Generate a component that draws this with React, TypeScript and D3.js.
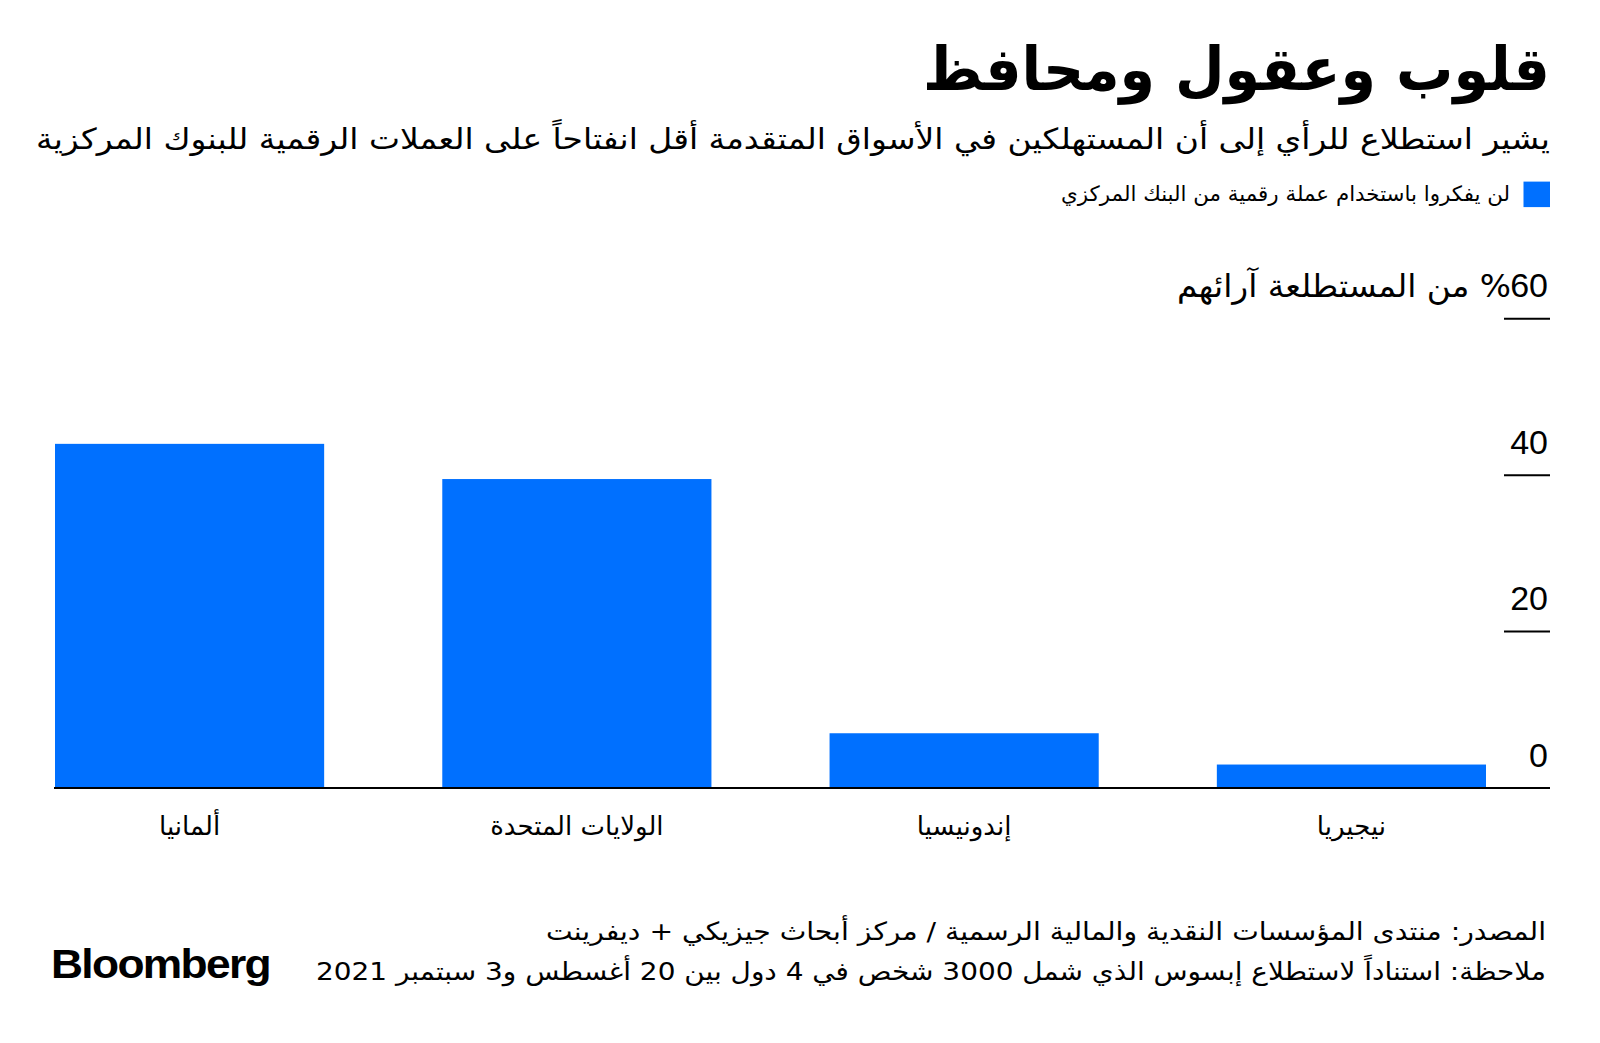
import React from "react";
import * as d3 from "d3";

const title = "قلوب وعقول ومحافظ";
const subtitle = "يشير استطلاع للرأي إلى أن المستهلكين في الأسواق المتقدمة أقل انفتاحاً على العملات الرقمية للبنوك المركزية";
const legendLabel = "لن يفكروا باستخدام عملة رقمية من البنك المركزي";
const yUnitLabel = "% من المستطلعة آرائهم";
const categories = ["ألمانيا", "الولايات المتحدة", "إندونيسيا", "نيجيريا"];
const values = [44, 39.5, 7, 3];
const yTicks = [0, 20, 40, 60];
const sourceText = "المصدر: منتدى المؤسسات النقدية والمالية الرسمية / مركز أبحاث جيزيكي + ديفرينت";
const noteText = "ملاحظة: استناداً لاستطلاع إبسوس الذي شمل 3000 شخص في 4 دول بين 20 أغسطس و3 سبتمبر 2021";

const W = 1600;
const H = 1043;
const BLUE = "#0070ff";
const AR = "'DejaVu Sans', 'Noto Sans', sans-serif";
const LAT = "'Liberation Sans', Arial, 'DejaVu Sans', sans-serif";

export default function App() {
  const x = d3.scaleBand<string>().domain(categories).range([55, 1486]).paddingInner(0.305).paddingOuter(0);
  const y = d3.scaleLinear().domain([0, 60]).range([788, 318.7]);
  const rtl = { direction: "rtl" as const, unicodeBidi: "embed" as const };

  return (
    <div style={{ position: "absolute", left: 0, top: 0, width: W, height: H, background: "#fff" }}>
      <svg width={W} height={H} viewBox={`0 0 ${W} ${H}`} style={{ display: "block" }}>
        <rect width={W} height={H} fill="#fff" />
        {/* title */}
        <text x={1550} y={90} textAnchor="start" style={rtl} fontFamily={AR} fontWeight="bold" fontSize={60}
          textLength={627} lengthAdjust="spacingAndGlyphs" fill="#000">{title}</text>
        <text x={1550} y={149} textAnchor="start" style={rtl} fontFamily={AR} fontSize={29}
          textLength={1514} lengthAdjust="spacingAndGlyphs" fill="#000">{subtitle}</text>
        {/* legend */}
        <rect x={1523.5} y={181.6} width={26.5} height={25.5} fill={BLUE} />
        <text x={1510} y={201} textAnchor="start" style={rtl} fontFamily={AR} fontSize={21}
          textLength={449} lengthAdjust="spacingAndGlyphs" fill="#000">{legendLabel}</text>

        {/* bars */}
        {categories.map((c, i) => (
          <rect key={c} x={x(c)} y={y(values[i])} width={x.bandwidth()} height={y(0) - y(values[i])} fill={BLUE} />
        ))}

        {/* y ticks */}
        {yTicks.map((t) => (
          <g key={t}>
            {t !== 0 && <line x1={1504} x2={1550} y1={y(t)} y2={y(t)} stroke="#000" strokeWidth={2} />}
            <text x={1548} y={y(t) - 21.5} textAnchor="end" fontFamily={LAT} fontSize={34} fill="#000">{t}</text>
          </g>
        ))}
        <text x={1511} y={y(60) - 21.5} textAnchor="start" style={rtl} fontFamily={AR} fontSize={32}
          textLength={334} lengthAdjust="spacingAndGlyphs" fill="#000">{yUnitLabel}</text>

        {/* baseline */}
        <line x1={54} x2={1550} y1={y(0)} y2={y(0)} stroke="#000" strokeWidth={2.2} />

        {/* x labels */}
        {categories.map((c) => (
          <text key={c} x={(x(c) ?? 0) + x.bandwidth() / 2} y={835} textAnchor="middle" style={rtl}
            fontFamily={AR} fontSize={26} fill="#000">{c}</text>
        ))}

        {/* footer */}
        <text x={1546} y={940} textAnchor="start" style={rtl} fontFamily={AR} fontSize={25}
          textLength={1000} lengthAdjust="spacingAndGlyphs" fill="#000">{sourceText}</text>
        <text x={1546} y={980} textAnchor="start" style={rtl} fontFamily={AR} fontSize={25}
          textLength={1230} lengthAdjust="spacingAndGlyphs" fill="#000">{noteText}</text>
        <text x={51} y={978} fontFamily={LAT} fontWeight="bold" fontSize={40} letterSpacing={-1.5}
          textLength={219} lengthAdjust="spacingAndGlyphs" fill="#000">Bloomberg</text>
      </svg>
    </div>
  );
}
